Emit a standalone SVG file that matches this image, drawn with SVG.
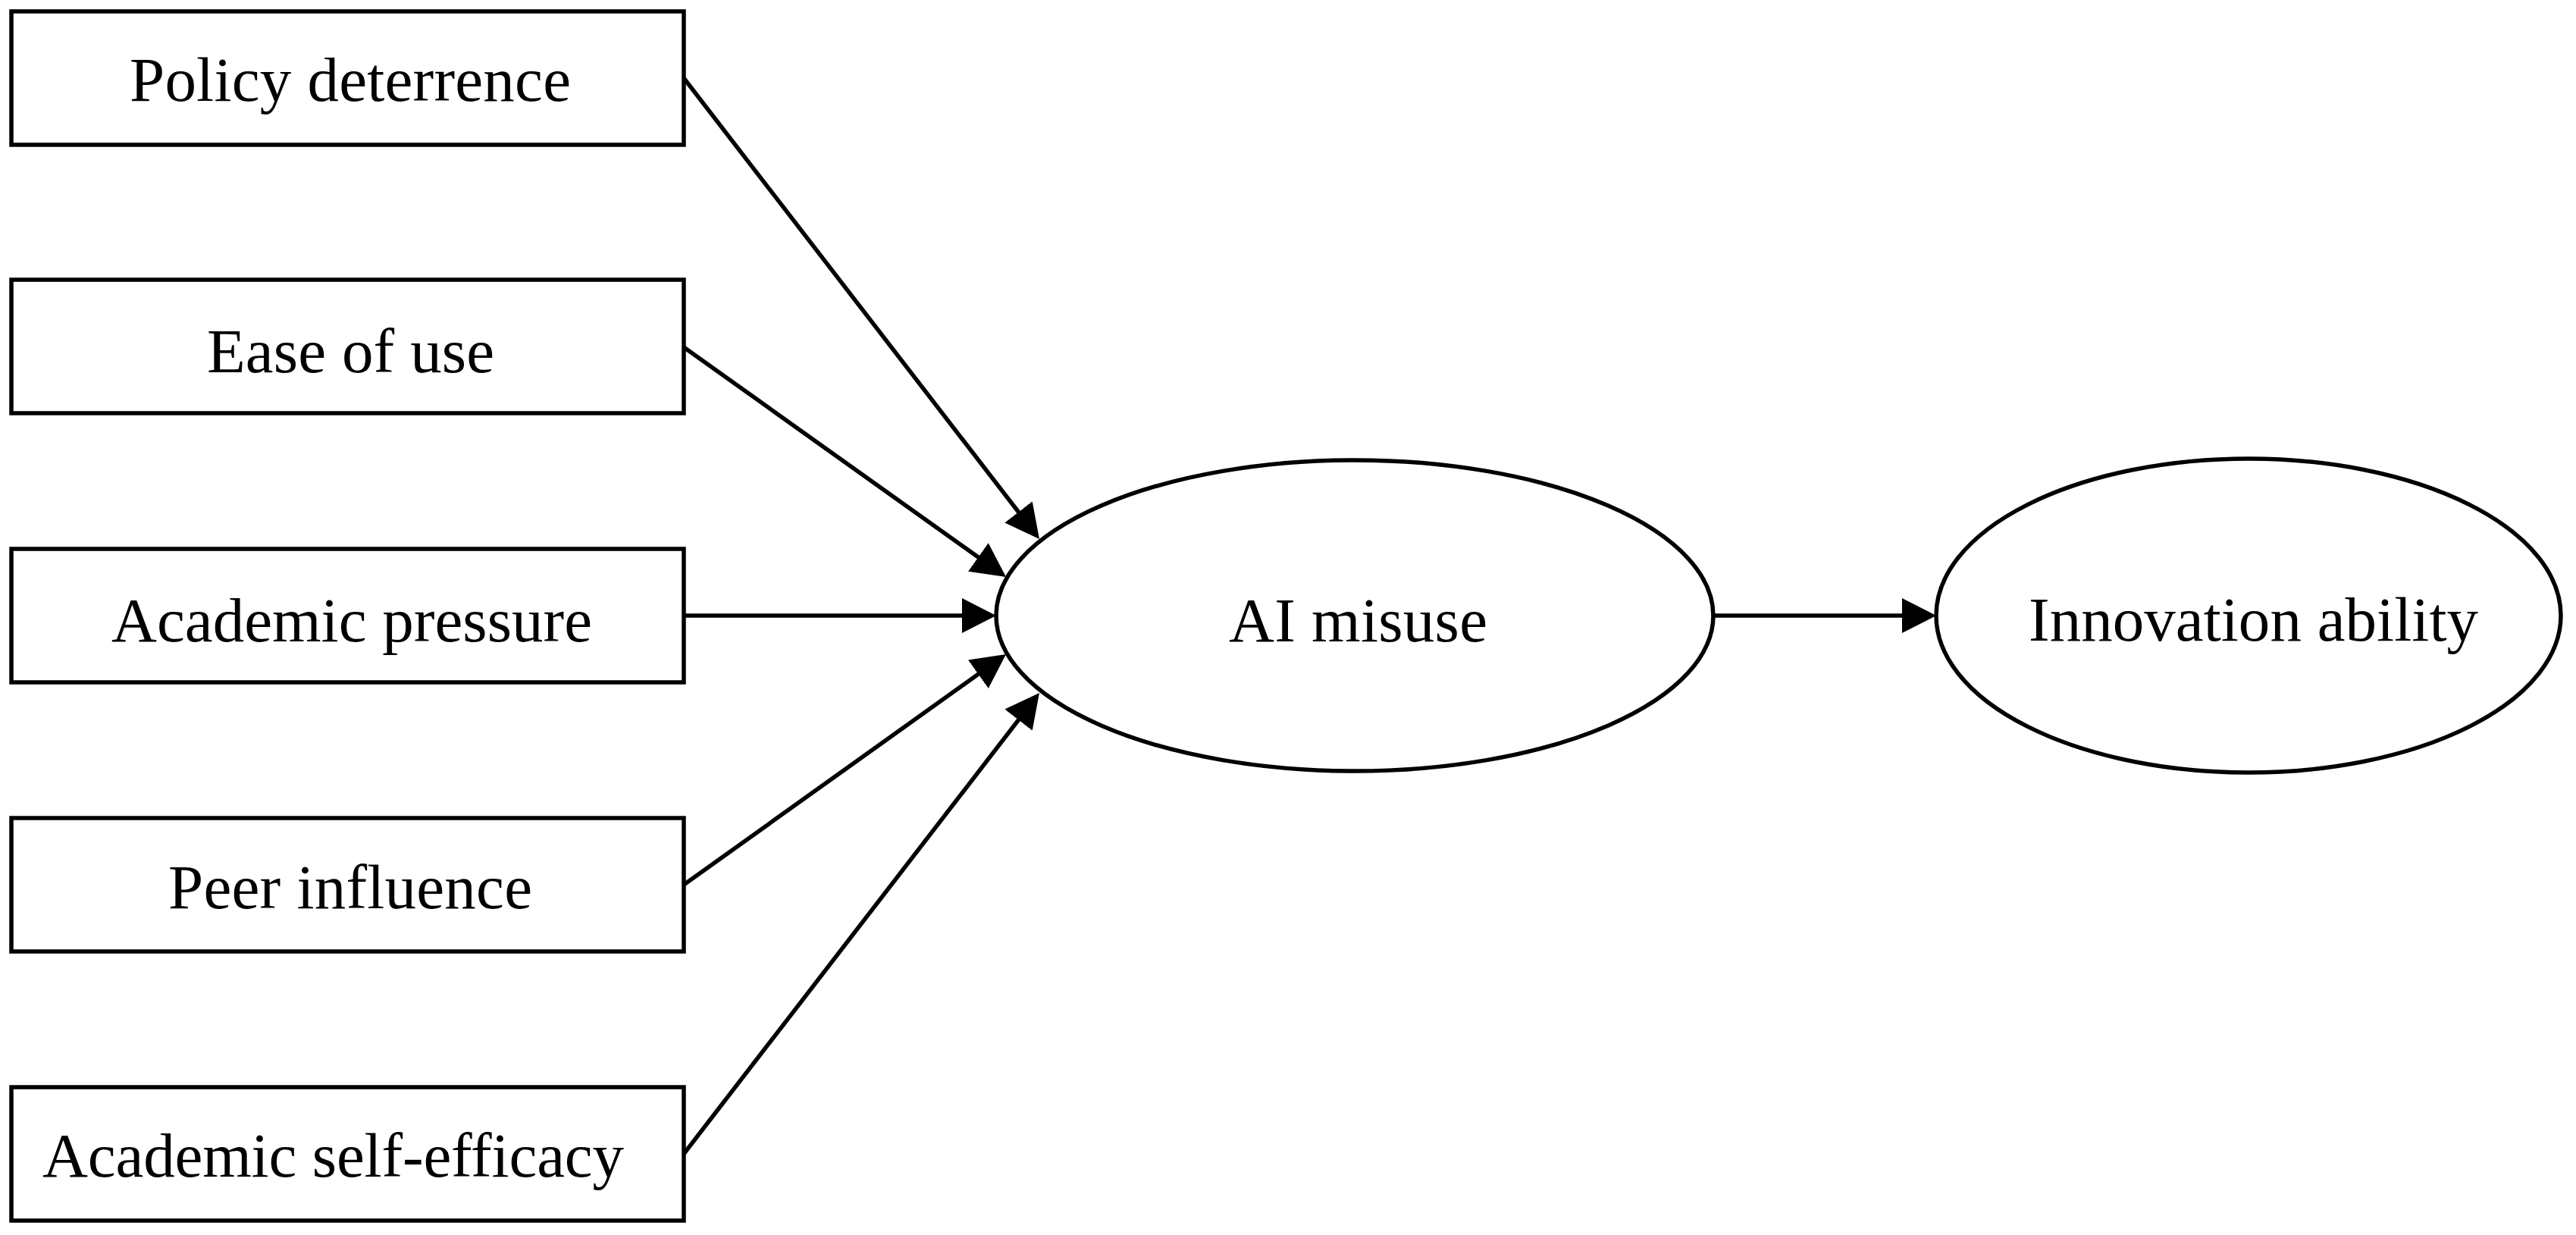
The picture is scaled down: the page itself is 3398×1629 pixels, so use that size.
<svg xmlns="http://www.w3.org/2000/svg" width="3398" height="1629" viewBox="0 0 3398 1629">
<style>
.box{fill:#fff;stroke:#000;stroke-width:5.5}
.ell{fill:#fff;stroke:#000;stroke-width:5.5}
.lbl{font-family:"Liberation Serif","Times New Roman",serif;font-size:83px;fill:#000}
.edge{stroke:#000;stroke-width:5.5;fill:none;marker-end:url(#ah)}
</style>
<defs>
<marker id="ah" markerUnits="userSpaceOnUse" markerWidth="46" markerHeight="46" refX="37" refY="23" orient="auto" viewBox="0 0 46 46">
<path d="M0,0 L45,23 L0,46 z" fill="#000"/>
</marker>
</defs>
<rect width="3398" height="1629" fill="#fff"/>
<g id="connectors">
<line class="edge" x1="902" y1="103" x2="1366.1" y2="704.7"/>
<line class="edge" x1="902" y1="458" x2="1320.5" y2="756.4"/>
<line class="edge" x1="902" y1="812" x2="1306" y2="812"/>
<line class="edge" x1="902" y1="1167" x2="1320.5" y2="867.7"/>
<line class="edge" x1="902" y1="1522" x2="1366.1" y2="920.3"/>
<line class="edge" x1="2260" y1="812" x2="2546" y2="812"/>
</g>
<g id="policy-deterrence">
<rect class="box" x="15" y="15" width="887" height="176"/>
<text class="lbl" x="171" y="133" textLength="582">Policy deterrence</text>
</g>
<g id="ease-of-use">
<rect class="box" x="15" y="369" width="887" height="176"/>
<text class="lbl" x="273" y="491" textLength="379">Ease of use</text>
</g>
<g id="academic-pressure">
<rect class="box" x="15" y="724" width="887" height="176"/>
<text class="lbl" x="147" y="846" textLength="634">Academic pressure</text>
</g>
<g id="peer-influence">
<rect class="box" x="15" y="1079" width="887" height="176"/>
<text class="lbl" x="222" y="1198" textLength="480">Peer influence</text>
</g>
<g id="academic-self-efficacy">
<rect class="box" x="15" y="1434" width="887" height="176"/>
<text class="lbl" x="56" y="1552" textLength="767">Academic self-efficacy</text>
</g>
<g id="ai-misuse">
<ellipse class="ell" cx="1787" cy="812" rx="473" ry="205"/>
<text class="lbl" x="1621" y="846" textLength="341">AI misuse</text>
</g>
<g id="innovation-ability">
<ellipse class="ell" cx="2966" cy="812" rx="412" ry="207"/>
<text class="lbl" x="2676" y="845" textLength="593">Innovation ability</text>
</g>
</svg>
